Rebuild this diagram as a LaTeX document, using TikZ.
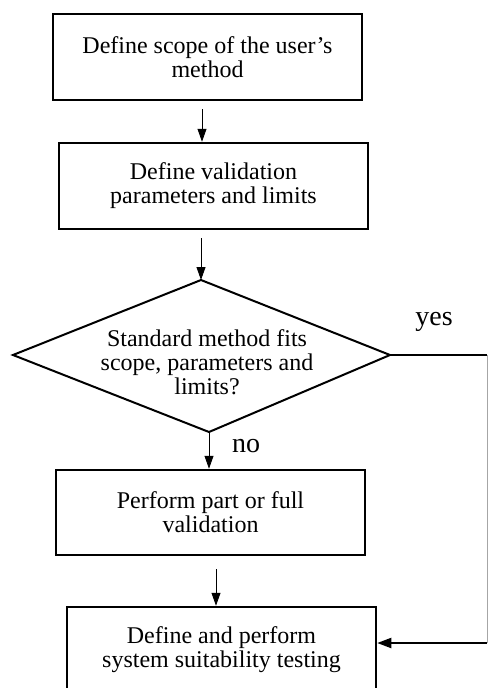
\documentclass[tikz,border=0pt]{standalone}
\usepackage{fontspec}
\setmainfont{Liberation Serif}
\usetikzlibrary{arrows.meta}
\tikzset{
  box/.style={draw=black, line width=2.5pt, minimum width=309pt, minimum height=86pt, inner sep=0pt,
    align=center, font=\fontsize{24}{24}\selectfont},
  dectext/.style={inner sep=0pt, align=center, font=\fontsize{24}{24}\selectfont},
  decline/.style={draw=black, line width=2pt, line join=miter},
  arr/.style={line width=0.9pt, -{Triangle[width=9pt,length=13pt]}},
  conn/.style={line width=2pt},
  lab/.style={font=\fontsize{28}{28}\selectfont, inner sep=0pt}
}
\begin{document}
\begin{tikzpicture}[x=1pt,y=1pt]
\clip (0,0) rectangle (488,-688);
\fill[white] (0,0) rectangle (488,-688);
\node[box] (b1) at (207.5,-57) {Define scope of the user's\\method};
\node[box] (b2) at (213.5,-186) {Define validation\\parameters and limits};
\coordinate (dt) at (201,-280);
\coordinate (dr) at (390,-355);
\coordinate (db) at (209,-432);
\coordinate (dl) at (13,-355);
\draw[decline] (dt) -- (dr) -- (db) -- (dl) -- cycle;
\node[dectext] (d) at (207,-362) {Standard method fits\\scope, parameters and\\limits?};
\node[box, minimum height=85pt] (b3) at (210.5,-512.5) {Perform part or full\\validation};
\node[box, minimum height=85pt] (b4) at (221.5,-649.5) {Define and perform\\system suitability testing};
\coordinate (c1) at (487,-355);
\coordinate (c2) at (487,-643);
\node[lab] (yes) at (434,-322) {yes};
\node[lab] (no) at (246,-446) {no};
\draw[arr, shorten <=8pt] ([xshift=-5.5pt]b1.south) -- ([xshift=-11.5pt]b2.north);
\draw[arr, shorten <=8pt] (b2.south -| dt) -- (dt);
\draw[arr] (db) -- (db |- b3.north);
\draw[arr, shorten <=13pt] ([xshift=5.5pt]b3.south) -- ([xshift=-5.5pt]b4.north);
\draw[conn] (dr) -- (c1);
\draw[line width=0.8pt, black!35] (c1) -- (c2);
\draw[conn, -{Triangle[width=10pt,length=14pt]}] (c2) -- (c2 -| b4.east);
\end{tikzpicture}
\end{document}
